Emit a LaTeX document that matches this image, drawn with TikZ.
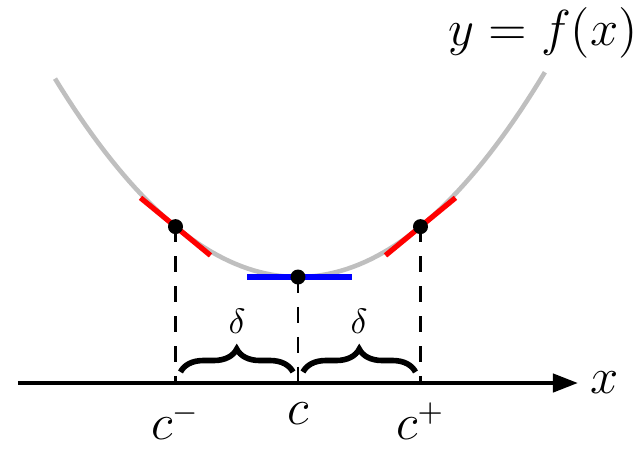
\documentclass[tikz,border=0pt]{standalone}
\usetikzlibrary{arrows.meta,decorations.pathreplacing}
\begin{document}
\begin{tikzpicture}[font=\fontsize{13.5}{16}\selectfont]
	\useasboundingbox (0,0) rectangle (6.43,4.49);
	
	% points on the axis
	\coordinate (O) at (0.18,0.66);
	\coordinate (E) at (5.78,0.66);
	\coordinate (Cm) at (1.755,0.66);
	\coordinate (C) at (2.98,0.66);
	\coordinate (Cp) at (4.205,0.66);
	% points on the curve
	\coordinate (Pm) at (1.755,2.224);
	\coordinate (P) at (2.98,1.72);
	\coordinate (Pp) at (4.205,2.224);
	
	\draw[line width=1.3pt][lightgray] plot[domain=0.55:5.45,samples=80] (\x,{1.72+0.336*(\x-2.98)^2});
	
	\draw[line width=1.5pt][red]([shift={(-0.35,0.288)}]Pm)--([shift={(0.35,-0.288)}]Pm);
	\draw[line width=1.5pt][red]([shift={(-0.35,-0.288)}]Pp)--([shift={(0.35,0.288)}]Pp);
	\draw[line width=1.5pt][blue]([xshift=-0.51cm]P)--([xshift=0.54cm]P);
	
	\draw[dash pattern=on 4.5pt off 4pt,semithick][black](Pm)--(Cm);
	\draw[dash pattern=on 4.5pt off 4pt,semithick][black](P)--(C);
	\draw[dash pattern=on 4.5pt off 4pt,semithick][black](Pp)--(Cp);
	
	\fill[black](Pm) circle [radius=0.075];
	\fill[black](P) circle [radius=0.075];
	\fill[black](Pp) circle [radius=0.075];
	
	\draw[line width=1.2pt,-{Triangle[length=2.5mm,width=1.8mm]}][black](O)--(E);
	
	\draw[decorate,decoration={brace,amplitude=0.23cm},line width=1.6pt]([shift={(0.05,0.11)}]Cm)--([shift={(-0.05,0.11)}]C);
	\draw[decorate,decoration={brace,amplitude=0.23cm},line width=1.6pt]([shift={(0.05,0.11)}]C)--([shift={(-0.05,0.11)}]Cp);
	
	\node[below=2pt] (lcm) at (Cm) {$c^-$};
	\node[below=2pt] (lc) at (C) {$c$};
	\node[below=2pt] (lcp) at (Cp) {$c^+$};
	\node (lx) at (6.05,0.66) {$x$};
	\node (lf) at (5.43,4.165) {$y=f(x)$};
	\node[font=\normalsize] (ld1) at (2.37,1.28) {$\delta$};
	\node[font=\normalsize] (ld2) at (3.59,1.28) {$\delta$};
\end{tikzpicture}
\end{document}
